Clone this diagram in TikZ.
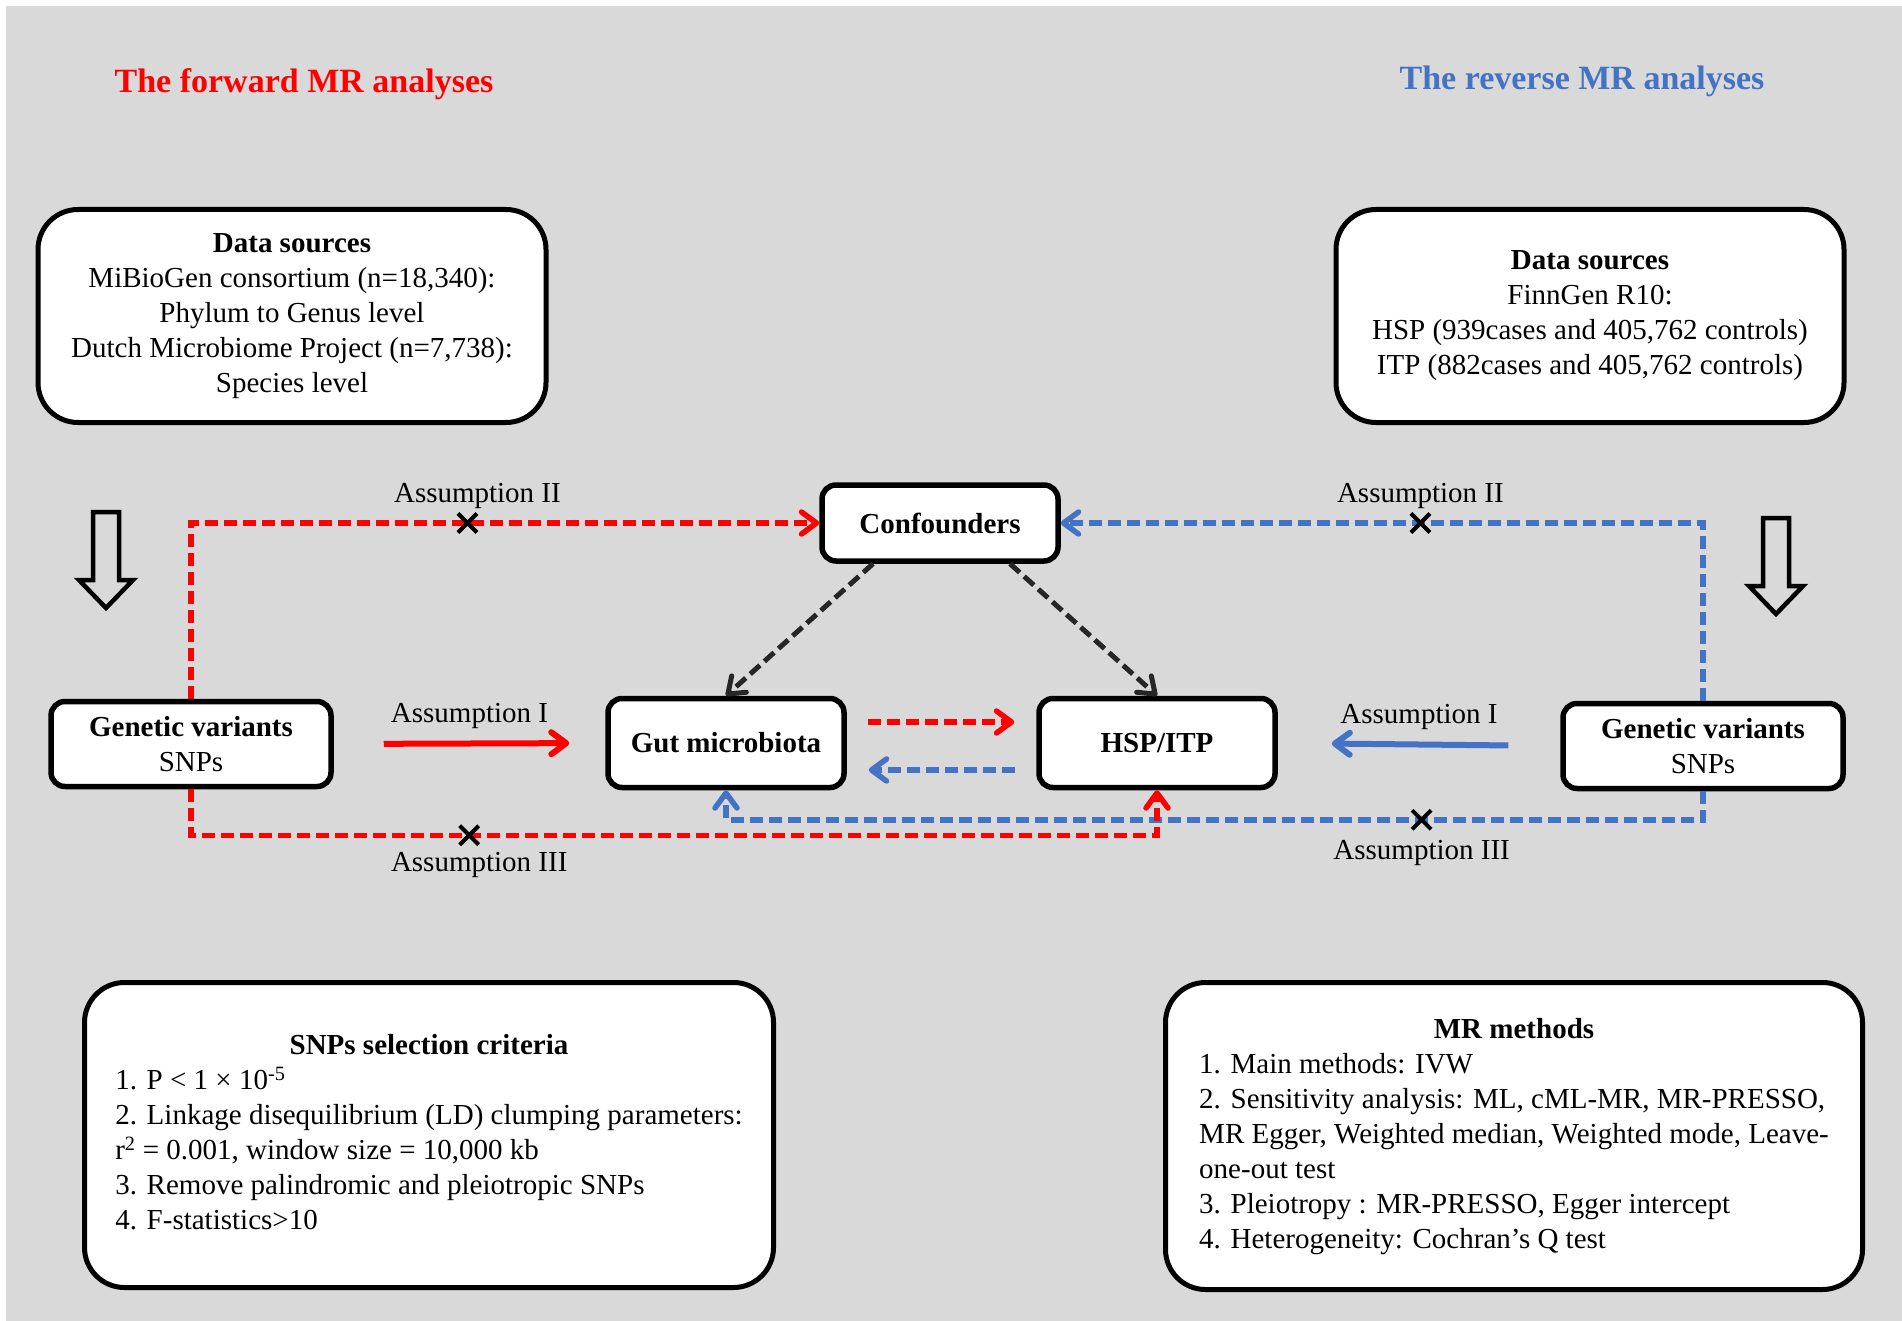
\documentclass[tikz,border=0pt]{standalone}
\usepackage{fontspec}
\setmainfont{Liberation Serif}
\usetikzlibrary{arrows.meta, positioning, shapes.misc}
\usepackage{xcolor}
\definecolor{bggray}{HTML}{D9D9D9}
\definecolor{mrred}{HTML}{FF0000}
\definecolor{mrblue}{HTML}{4472C4}

\begin{document}
\begin{tikzpicture}[ 
x=1pt, y=1pt,
font=\fontsize{29}{35}\selectfont,
bigbox/.style={draw, 
line width=5pt, 
fill=white, 
rounded corners=40pt, 
align=center}, 
smallbox/.style={draw, 
line width=5.5pt, 
fill=white, 
rounded corners=14pt, 
minimum width=236pt, 
align=center}, 
lbl/.style={inner sep=0pt}, 
xmark/.style={cross out, draw=black, solid, -, line width=4pt, minimum size=15pt, inner sep=0pt}, 
tip/.style={-{Straight Barb[length=15pt, width=22pt, round]}}, 
reddash/.style={draw=mrred, line width=5.5pt, dash pattern=on 13pt off 6pt, tip}, 
bluedash/.style={draw=mrblue, line width=5.5pt, dash pattern=on 13pt off 6pt, tip}, 
blackdash/.style={draw=black!85, line width=5pt, dash pattern=on 13pt off 6pt, tip}, 
redarrow/.style={draw=mrred, line width=6pt, tip}, 
bluearrow/.style={draw=mrblue, line width=6pt, tip} 
]

\useasboundingbox (0,0) rectangle (1902,-1321);
\fill[bggray] (6,-6) rectangle (1902,-1321);

% titles
\node[text=mrred, font=\fontsize{34}{40}\selectfont\bfseries] (fwd) at (304,-84) {The forward MR analyses};
\node[text=mrblue, font=\fontsize{34}{40}\selectfont\bfseries] (rev) at (1582,-81) {The reverse MR analyses};

% data sources
\node[bigbox, minimum width=508pt, minimum height=213pt] (src0) at (292,-316) {\textbf{Data sources}\\MiBioGen consortium (n=18,340):\\Phylum to Genus level\\Dutch Microbiome Project (n=7,738):\\Species level};
\node[bigbox, minimum width=508pt, minimum height=213pt] (src1) at (1590,-316) {\textbf{Data sources}\\FinnGen R10:\\HSP (939cases and 405,762 controls)\\ITP (882cases and 405,762 controls)};

% main nodes
\node[smallbox, minimum height=76pt] (conf) at (940,-523) {\textbf{Confounders}};
\node[smallbox, minimum height=89pt] (gut) at (726,-743) {\textbf{Gut microbiota}};
\node[smallbox, minimum height=89pt] (hsp) at (1157,-743) {\textbf{HSP/ITP}};
\node[smallbox, minimum width=280pt, minimum height=85pt] (gv0) at (191,-744) {\textbf{Genetic variants}\\SNPs};
\node[smallbox, minimum width=280pt, minimum height=85pt] (gv1) at (1703,-746) {\textbf{Genetic variants}\\SNPs};

% criteria and methods
\node[bigbox, minimum width=689pt, minimum height=305pt] (crit) at (429,-1135) {\begin{tabular}{@{}l@{}}
\multicolumn{1}{@{}c@{}}{\textbf{SNPs selection criteria}}\\
1. P < 1 × 10\textsuperscript{-5}\\
2. Linkage disequilibrium (LD) clumping parameters:\\
r\textsuperscript{2} = 0.001, window size = 10,000 kb\\
3. Remove palindromic and pleiotropic SNPs\\
4. F-statistics>10
\end{tabular}};
\node[bigbox, minimum width=697pt, minimum height=307pt] (meth) at (1514,-1136) {\begin{tabular}{@{}l@{}}
\multicolumn{1}{@{}c@{}}{\textbf{MR methods}}\\
1. Main methods: IVW\\
2. Sensitivity analysis: ML, cML-MR, MR-PRESSO,\\
MR Egger, Weighted median, Weighted mode, Leave-\\
one-out test\\
3. Pleiotropy : MR-PRESSO, Egger intercept\\
4. Heterogeneity: Cochran’s Q test
\end{tabular}};

% hollow arrows
\foreach \ax/\ay in {106/512, 1776/518}
  \draw[line width=4.5pt, miter limit=10] ({\ax-13},-\ay) -- ({\ax+13},-\ay) -- ({\ax+13},{-\ay-68}) -- ({\ax+27},{-\ay-68}) -- (\ax,{-\ay-96}) -- ({\ax-27},{-\ay-68}) -- ({\ax-13},{-\ay-68}) -- cycle;

% assumption II
\draw[reddash] (gv0.north) |- node[xmark, pos=0.72] (x0) {} (conf.west);
\draw[bluedash] (gv1.north) |- node[xmark, pos=0.72] (x1) {} (conf.east);
\node[lbl, above=5pt of x0, xshift=10pt] (a0) {Assumption II};
\node[lbl, above=5pt of x1] (a1) {Assumption II};

% assumption III
\draw[bluedash] (gv1.south) -- ++(0,-28.5) -| node[xmark, pos=0.144] (x3) {} (gut.south);
\draw[reddash] (gv0.south) -- ++(0,-46) -| node[xmark, pos=0.144] (x2) {} (hsp.south);
\node[lbl, below=7pt of x2, xshift=10pt] (a2) {Assumption III};
\node[lbl, below=11pt of x3] (a3) {Assumption III};

% assumption I
\draw[redarrow, shorten <=50pt, shorten >=36pt] (gv0.east) -- node[lbl, above=12pt] (a4) {Assumption I} (gut.west);
\draw[bluearrow, shorten <=52pt, shorten >=54pt] (gv1.west) -- node[lbl, above=12pt] (a5) {Assumption I} (hsp.east);

% confounders and direct effects
\draw[blackdash] ([xshift=-67pt]conf.south) -- (gut.north);
\draw[blackdash] ([xshift=70pt]conf.south) -- (hsp.north);
\draw[reddash, shorten <=21pt, shorten >=22pt] ([yshift=21pt]gut.east) -- ([yshift=21pt]hsp.west);
\draw[bluedash, shorten <=21pt, shorten >=22pt] ([yshift=-27pt]hsp.west) -- ([yshift=-27pt]gut.east);

\end{tikzpicture}
\end{document}
